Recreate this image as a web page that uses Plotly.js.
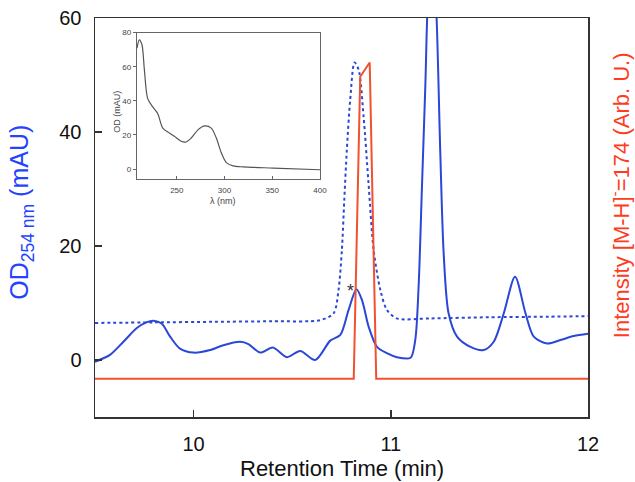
<!DOCTYPE html>
<html>
<head>
<meta charset="utf-8">
<script src="https://cdn.plot.ly/plotly-3.0.1.min.js"></script>
<style>html,body{margin:0;padding:0;background:#fff;}#chart{width:635px;height:482px;}</style>
</head>
<body>
<div id="chart"></div>
<script>
// Main chromatogram, OD 254 nm (solid)
const rtSolid = [9.5, 9.576, 9.644, 9.712, 9.76, 9.796, 9.838, 9.881, 9.931, 9.999, 10.084, 10.151, 10.236, 10.278, 10.338, 10.402, 10.473, 10.541, 10.617, 10.693, 10.744, 10.786, 10.826, 10.854, 10.888, 10.93, 10.98, 11.031, 11.1, 11.124, 11.141, 11.158, 11.175, 11.19, 11.21, 11.23, 11.251, 11.268, 11.293, 11.336, 11.404, 11.471, 11.522, 11.573, 11.63, 11.683, 11.725, 11.793, 11.86, 11.928, 12.0];
const odSolid = [-0.3, 0.9, 3.2, 5.6, 6.6, 6.9, 6.4, 4.1, 2.0, 1.3, 1.75, 2.6, 3.2, 2.8, 1.3, 2.2, 0.5, 1.6, 0.0, 3.4, 4.4, 8.8, 12.4, 10.5, 5.8, 2.3, 1.2, 0.5, 0.4, 3.5, 12.9, 30.4, 48, 65, 72, 62, 36.3, 18.8, 8.2, 4.1, 2.3, 1.75, 3.2, 8.2, 14.6, 8.2, 4.1, 2.9, 3.5, 4.2, 4.6];

// Dotted trace
const rtDotted = [9.5, 9.8, 10.1, 10.4, 10.642, 10.71, 10.735, 10.752, 10.764, 10.777, 10.794, 10.816, 10.837, 10.862, 10.887, 10.913, 10.947, 10.98, 11.03, 11.2, 11.5, 11.8, 12.0];
const odDotted = [6.5, 6.6, 6.7, 6.8, 7.0, 8.2, 12.3, 19.3, 28, 36.8, 45.6, 52.2, 50.9, 42.7, 31, 19.3, 12.3, 8.8, 7.3, 7.3, 7.5, 7.6, 7.7];

// MS intensity [M-H]- = 174
const rtMS = [9.5, 10.812, 10.845, 10.893, 10.926, 12.0];
const intensityMS = [-3.3, -3.3, 49.7, 52.2, -3.3, -3.3];

// Inset UV spectrum
const wavelength = [208.3, 210.7, 213.5, 216, 219.5, 224.8, 230, 235.3, 242.3, 247.5, 254.6, 259.8, 265.1, 272.1, 279.1, 286.1, 291.4, 296.6, 301.9, 308.9, 319.4, 351, 400];
const odSpectrum = [71, 75.8, 72.9, 58.5, 41.3, 36.5, 32.6, 24, 21.1, 19.2, 16.3, 15.9, 18.2, 23, 25.3, 24, 18.2, 9.6, 3.8, 1.9, 1.3, 0.6, -0.4];

const mainXTicks = [10, 11, 12];
const mainYTicks = [0, 20, 40, 60];
const insetXTicks = [250, 300, 350, 400];
const insetYTicks = [0, 20, 40, 60, 80];

const FONT = 'Liberation Sans, Arial, sans-serif';
const BLUE = '#2a47d6';
const RED = '#f2512f';

const traces = [
  {x: rtDotted, y: odDotted, xaxis: 'x', yaxis: 'y', mode: 'lines',
   line: {color: BLUE, width: 2, dash: '3px,3px', shape: 'spline', smoothing: 0.8}},
  {x: rtSolid, y: odSolid, xaxis: 'x', yaxis: 'y', mode: 'lines',
   line: {color: BLUE, width: 2, shape: 'spline', smoothing: 0.8}},
  {x: rtMS, y: intensityMS, xaxis: 'x', yaxis: 'y2', mode: 'lines',
   line: {color: RED, width: 2}},
  {x: wavelength, y: odSpectrum, xaxis: 'x3', yaxis: 'y3', mode: 'lines',
   line: {color: '#555', width: 1.2, shape: 'spline', smoothing: 0.8}}
];

const layout = {
  width: 635, height: 482,
  margin: {l: 95, r: 47, t: 18, b: 65, pad: 0},
  paper_bgcolor: '#fff', plot_bgcolor: 'rgba(0,0,0,0)',
  showlegend: false,
  font: {family: FONT, color: '#111'},
  xaxis: {
    domain: [0, 1], range: [9.5, 12], tickvals: mainXTicks,
    ticks: 'inside', ticklen: 7, tickwidth: 1.5, tickcolor: '#333',
    showline: true, mirror: true, linecolor: '#333', linewidth: 1.5,
    showgrid: false, zeroline: false, tickfont: {size: 20, color: '#111'}, ticklabelstandoff: 8
  },
  yaxis: {
    range: [-10, 60], tickvals: mainYTicks,
    ticks: 'inside', ticklen: 7, tickwidth: 1.5, tickcolor: '#333',
    showline: true, mirror: true, linecolor: '#333', linewidth: 1.5,
    showgrid: false, zeroline: false, tickfont: {size: 20, color: '#111'}, ticklabelstandoff: 8
  },
  yaxis2: {
    overlaying: 'y', side: 'right', range: [-10, 60], showticklabels: false, ticks: '',
    showgrid: false, zeroline: false, showline: false
  },
  xaxis3: {
    domain: [0.0846, 0.4564], anchor: 'y3', range: [208, 400], tickvals: insetXTicks,
    ticks: 'inside', ticklen: 3, tickwidth: 1, tickcolor: '#666',
    showline: true, mirror: true, linecolor: '#666', linewidth: 1,
    showgrid: false, zeroline: false, tickfont: {size: 8, color: '#444'}, ticklabelstandoff: 3
  },
  yaxis3: {
    domain: [0.5957, 0.9632], anchor: 'x3', range: [-6, 80], tickvals: insetYTicks,
    ticks: 'outside', ticklen: 3, tickwidth: 1, tickcolor: '#666',
    showline: true, mirror: true, linecolor: '#666', linewidth: 1,
    showgrid: false, zeroline: false, tickfont: {size: 8, color: '#444'}
  },
  annotations: [
    {text: 'Retention Time (min)', xref: 'paper', yref: 'paper', x: 0.5, y: -0.128,
     xanchor: 'center', yanchor: 'middle', showarrow: false, font: {size: 22, color: '#111'}},
    {text: 'OD<sub>254 nm</sub> (mAU)', xref: 'paper', yref: 'paper', x: -0.150, y: 0.512,
     xanchor: 'center', yanchor: 'middle', textangle: -90, showarrow: false, font: {size: 25, color: '#2343ff'}},
    {text: 'Intensity [M-H]<sup>-</sup>=174 (Arb. U.)', xref: 'paper', yref: 'paper', x: 1.065, y: 0.556,
     xanchor: 'center', yanchor: 'middle', textangle: -90, showarrow: false, font: {size: 22, color: '#ff3b1e'}},
    {text: 'OD (mAU)', xref: 'paper', yref: 'paper', x: 0.0446, y: 0.765,
     xanchor: 'center', yanchor: 'middle', textangle: -90, showarrow: false, font: {size: 9, color: '#444'}},
    {text: 'λ (nm)', xref: 'paper', yref: 'paper', x: 0.259, y: 0.542,
     xanchor: 'center', yanchor: 'middle', showarrow: false, font: {size: 9, color: '#444'}},
    {text: '*', xref: 'x', yref: 'y', x: 10.798, y: 12.9, xanchor: 'center', yanchor: 'middle',
     yshift: -5, showarrow: false, font: {size: 18, color: '#333'}}
  ]
};

Plotly.newPlot('chart', traces, layout, {staticPlot: true, displayModeBar: false});
</script>
</body>
</html>
